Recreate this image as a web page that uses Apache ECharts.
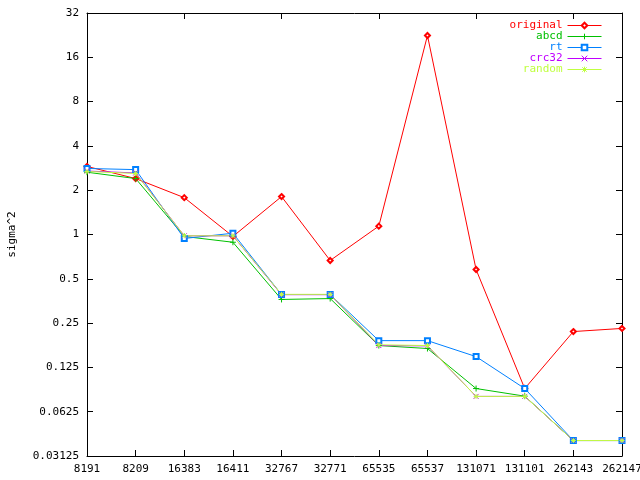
<!DOCTYPE html>
<html><head><meta charset="utf-8">
<script src="https://cdn.jsdelivr.net/npm/echarts@6/dist/echarts.min.js"></script>
<style>html,body{margin:0;padding:0;background:#fff}#c{width:640px;height:480px}</style>
</head><body><div id="c"></div>
<script>
var categories = ['8191','8209','16383','16411','32767','32771','65535','65537','131071','131101','262143','262147'];
var original = [2.9, 2.4, 1.78, 0.97, 1.81, 0.666, 1.14, 22.5, 0.578, 0.0898, 0.219, 0.23];
var abcd = [2.65, 2.4, 0.97, 0.886, 0.362, 0.367, 0.176, 0.168, 0.0898, 0.0797, 0.0398, 0.0398];
var rt = [2.81, 2.76, 0.94, 1.02, 0.391, 0.391, 0.19, 0.19, 0.148, 0.0898, 0.0398, 0.0398];
var crc32 = [2.7, 2.62, 0.98, 0.98, 0.39, 0.39, 0.176, 0.175, 0.0794, 0.0794, 0.0398, 0.0398];
var random = [2.68, 2.6, 0.98, 0.98, 0.392, 0.392, 0.178, 0.176, 0.0794, 0.0794, 0.0398, 0.0398];
var yTicks = [0.03125, 0.0625, 0.125, 0.25, 0.5, 1, 2, 4, 8, 16, 32];

var FONT = 'DejaVu Sans Mono';
var colors = ['#ff0000', '#00c000', '#0080ff', '#c000ff', '#c0ff40'];
var names = ['original', 'abcd', 'rt', 'crc32', 'random'];
var datas = [original, abcd, rt, crc32, random];
var symbols = [
  'emptyDiamond',
  'path://M0,5L10,5M5,0L5,10',
  'emptyRect',
  'path://M0,0L10,10M10,0L0,10',
  'path://M0,5L10,5M5,0L5,10M1,1L9,9M9,1L1,9'
];
var sizes = [5, 6, 5, 5, 5];

var chart = echarts.init(document.getElementById('c'), null, {renderer: 'canvas'});
var axisLine = {show: true, lineStyle: {color: '#000', width: 1}};
var series = names.map(function (n, i) {
  return {
    name: n, type: 'line', xAxisIndex: 0, yAxisIndex: 0,
    data: datas[i],
    symbol: symbols[i], symbolSize: sizes[i],
    showAllSymbol: true,
    lineStyle: {color: colors[i], width: 1},
    itemStyle: {color: colors[i], borderColor: colors[i], borderWidth: 1},
    emphasis: {disabled: true},
    animation: false
  };
});
chart.setOption({
  animation: false,
  grid: {left: 87, right: 18, top: 13, bottom: 24, containLabel: false, outerBoundsMode: 'none'},
  legend: {
    orient: 'vertical', right: 33, top: 15, align: 'right',
    itemWidth: 34, itemHeight: 7, itemGap: 0, selectedMode: false,
    lineStyle: {width: 1},
    itemStyle: {borderWidth: 1},
    textStyle: {fontFamily: FONT, fontSize: 11, lineHeight: 11, height: 11},
    data: names.map(function (n, i) { return {name: n, textStyle: {color: colors[i]}}; })
  },
  xAxis: [{
    type: 'category', data: categories, boundaryGap: false, position: 'bottom',
    axisLine: axisLine,
    axisTick: {show: true, inside: true, length: 6, lineStyle: {color: '#000'}},
    axisLabel: {fontFamily: FONT, fontSize: 11, color: '#000', margin: 8, interval: 0},
    splitLine: {show: false}
  }, {
    type: 'category', data: categories, boundaryGap: false, position: 'top',
    axisLine: axisLine,
    axisTick: {show: true, inside: true, length: 6, lineStyle: {color: '#000'}},
    axisLabel: {show: false}, splitLine: {show: false}
  }],
  yAxis: [{
    type: 'log', logBase: 2, min: yTicks[0], max: yTicks[yTicks.length - 1], interval: 1,
    name: 'sigma^2', nameLocation: 'middle', nameGap: 69, nameRotate: 90,
    nameTextStyle: {fontFamily: FONT, fontSize: 11, color: '#000'},
    axisLine: axisLine,
    axisTick: {show: true, inside: true, length: 6, lineStyle: {color: '#000'}},
    axisLabel: {fontFamily: FONT, fontSize: 11, color: '#000', margin: 8,
      formatter: function (v) { return String(+v.toPrecision(6)); }},
    splitLine: {show: false}
  }, {
    type: 'log', logBase: 2, min: yTicks[0], max: yTicks[yTicks.length - 1], interval: 1, position: 'right',
    axisLine: axisLine,
    axisTick: {show: true, inside: true, length: 6, lineStyle: {color: '#000'}},
    axisLabel: {show: false}, splitLine: {show: false}
  }],
  series: series
});
</script></body></html>
